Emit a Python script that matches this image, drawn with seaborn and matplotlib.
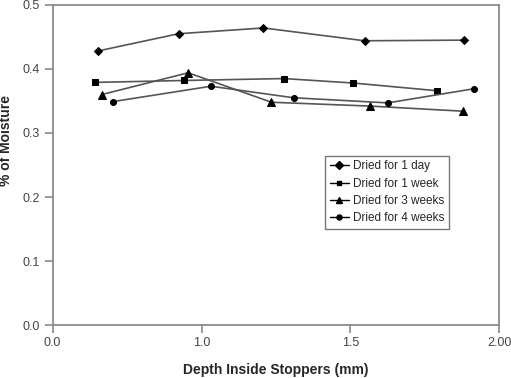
import matplotlib
matplotlib.use("Agg")
import matplotlib.pyplot as plt
from matplotlib.lines import Line2D
import numpy as np
import pandas as pd
import seaborn as sns

series_names = ["Dried for 1 day", "Dried for 1 week", "Dried for 3 weeks", "Dried for 4 weeks"]

x_1day = [0.202, 0.564, 0.944, 1.397, 1.843]
y_1day = [0.428, 0.455, 0.464, 0.444, 0.445]

x_1week = [0.190, 0.590, 1.036, 1.346, 1.721]
y_1week = [0.379, 0.382, 0.385, 0.378, 0.366]

x_3weeks = [0.220, 0.607, 0.980, 1.422, 1.839]
y_3weeks = [0.360, 0.394, 0.348, 0.342, 0.334]

x_4weeks = [0.270, 0.709, 1.079, 1.501, 1.885]
y_4weeks = [0.349, 0.373, 0.355, 0.347, 0.369]

x_tick_labels = ["0.0", "1.0", "1.5", "2.00"]
y_ticks = [0.0, 0.1, 0.2, 0.3, 0.4, 0.5]

frames = []
for name, xs, ys in zip(series_names,
                        [x_1day, x_1week, x_3weeks, x_4weeks],
                        [y_1day, y_1week, y_3weeks, y_4weeks]):
    frames.append(pd.DataFrame({"depth": xs, "moisture": ys, "series": name}))
df = pd.concat(frames, ignore_index=True)

markers = {"Dried for 1 day": "D", "Dried for 1 week": "s",
           "Dried for 3 weeks": "^", "Dried for 4 weeks": "o"}
msizes = {"Dried for 1 day": 4.3, "Dried for 1 week": 4.0,
          "Dried for 3 weeks": 5.8, "Dried for 4 weeks": 4.3}

sns.set_style("white")
plt.rcParams['font.family'] = ['Liberation Sans', 'DejaVu Sans']

fig = plt.figure(figsize=(5.11, 3.78), dpi=100)
ax = fig.add_axes([0.103, 0.140, 0.874, 0.847])

line_col = "#555555"
for name in series_names:
    sub = df[df["series"] == name]
    sns.lineplot(data=sub, x="depth", y="moisture", ax=ax, color=line_col,
                 marker=markers[name], markersize=msizes[name],
                 markerfacecolor="black", markeredgecolor="black",
                 linewidth=1.2, sort=False, legend=False)

ax.set_xlim(0, 2)
ax.set_ylim(0, 0.5)
ax.set_xticks(np.linspace(0, 2, 4))
ax.set_xticklabels(x_tick_labels)
ax.set_yticks(y_ticks)
ax.set_yticklabels([f"{v:.1f}" for v in y_ticks])

for sp in ax.spines.values():
    sp.set_color("#8a8a8a")
    sp.set_linewidth(1.3)
ax.tick_params(axis="both", direction="out", length=6, width=1.2, color="#8a8a8a",
               labelsize=9, labelcolor="#444444", bottom=True, left=True, pad=3)
ax.tick_params(axis="x", length=5.5)

ax.set_xlabel("Depth Inside Stoppers (mm)", fontsize=10, fontweight="bold")
ax.set_ylabel("% of Moisture", fontsize=10, fontweight="bold")
ax.xaxis.set_label_coords(0.5, -0.118)
ax.yaxis.set_label_coords(-0.088, 0.578)

handles = [Line2D([0], [0], color="black", marker=markers[n], markersize=msizes[n] * 0.85,
                  linewidth=1.0) for n in series_names]
leg = ax.legend(handles, series_names, loc="upper left", bbox_to_anchor=(0.610, 0.529),
                borderaxespad=0, fontsize=8.5, frameon=True, fancybox=False,
                handlelength=1.6, handletextpad=0.4, borderpad=0.4, labelspacing=0.45)
leg.get_frame().set_edgecolor("#555555")
leg.get_frame().set_linewidth(1.0)

fig.savefig("out.png", dpi=100)
